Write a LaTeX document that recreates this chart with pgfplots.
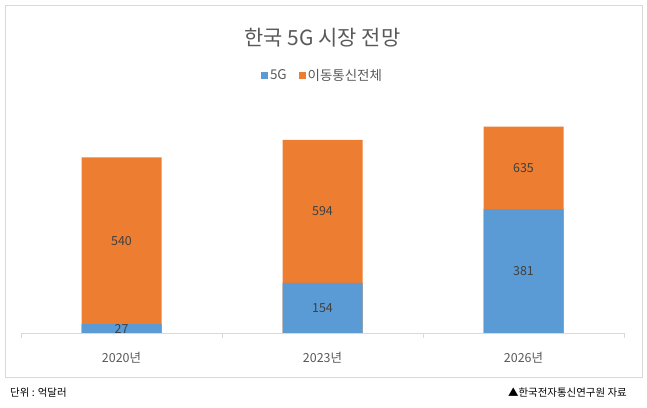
\documentclass[border=0pt]{standalone}
\usepackage{fontspec}
\setmainfont{Noto Sans CJK KR}
\usepackage{pgfplots}
\usepackage{pgfplotstable}
\pgfplotsset{compat=1.18}
\definecolor{cblue}{HTML}{5B9BD5}
\definecolor{corange}{HTML}{ED7D31}
\definecolor{txtgray}{HTML}{595959}
\definecolor{lblgray}{HTML}{404040}
\definecolor{linegray}{HTML}{D9D9D9}
\pgfplotstableread{
x total g5
0 540 27
1 594 154
2 635 381
}\mydata
\begin{document}
\begin{tikzpicture}[x=1bp,y=1bp]
\begin{axis}[
  at={(21bp,75bp)}, anchor=south west,
  scale only axis, width=603bp, height=227.5bp,
  xmin=-0.5, xmax=2.5, ymin=0, ymax=700,
  hide y axis,
  axis x line*=bottom,
  x axis line style={linegray, line width=0.8bp},
  xtick={0,1,2},
  xticklabels={2020년,2023년,2026년},
  major x tick style={draw=none},
  minor xtick={-0.5,0.5,1.5,2.5},
  minor x tick style={linegray, line width=0.8bp},
  minor tick length=5bp,
  tick align=outside,
  xticklabel style={font=\fontsize{12.5}{14}\selectfont, text=txtgray, anchor=center, yshift=-20bp},
  /pgf/number format/assume math mode=true,
  clip=false,
  legend style={at={(0.5,1.132)}, anchor=center, draw=none, fill=none,
    font=\fontsize{13.5}{15}\selectfont, text=txtgray, legend columns=2,
    /tikz/every even column/.append style={column sep=10bp}},
  legend image code/.code={\fill[#1] (0bp,-3.5bp) rectangle (7bp,3.5bp);},
]
\addplot[ybar, bar width=0.398, bar shift=0, fill=corange, draw=none, forget plot] table[x=x,y=total]{\mydata};
\addplot[ybar, bar width=0.398, bar shift=0, fill=cblue, draw=none, forget plot] table[x=x,y=g5]{\mydata};
\addplot[only marks, mark=none, forget plot, point meta=explicit,
  nodes near coords, nodes near coords align={center},
  every node near coord/.append style={font=\fontsize{12.5}{14}\selectfont, text=lblgray, anchor=center}]
  table[x=x, y expr=(\thisrow{total}+\thisrow{g5})/2, meta=total]{\mydata};
\addplot[only marks, mark=none, forget plot, point meta=explicit,
  nodes near coords, nodes near coords align={center},
  every node near coord/.append style={font=\fontsize{12.5}{14}\selectfont, text=lblgray, anchor=center}]
  table[x=x, y expr=\thisrow{g5}/2, meta=g5]{\mydata};
\addlegendimage{fill=cblue, draw=none}
\addlegendentry{5G}
\addlegendimage{fill=corange, draw=none}
\addlegendentry{이동통신전체}
\node[font=\fontsize{21}{24}\selectfont, text=txtgray] at (rel axis cs:0.5,1.297) {한국 5G 시장 전망};
\end{axis}
\draw[linegray, line width=0.8bp] (5bp,31bp) rectangle (642bp,403bp);
\node[anchor=west, font=\fontsize{10.5}{12}\selectfont, inner sep=0pt] at (10bp,15bp) {단위 : 억달러};
\node[anchor=east, font=\fontsize{10.5}{12}\selectfont, inner sep=0pt] at (627bp,15bp) {▲한국전자통신연구원 자료};
\pgfresetboundingbox
\path[use as bounding box] (0bp,0bp) rectangle (647bp,408bp);
\end{tikzpicture}
\end{document}
